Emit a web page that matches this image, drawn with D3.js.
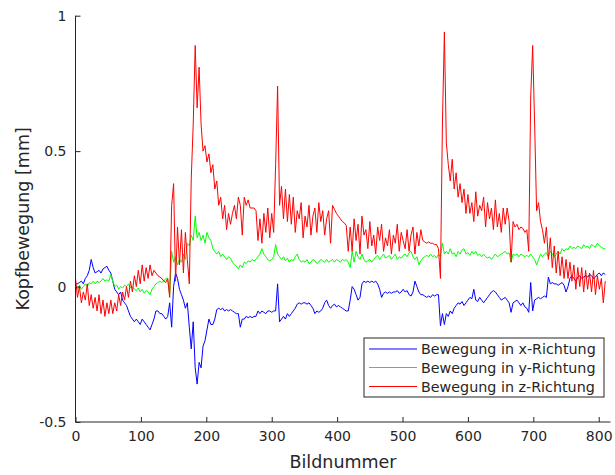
<!DOCTYPE html>
<html>
<head>
<meta charset="utf-8">
<script src="https://cdn.jsdelivr.net/npm/d3@7"></script>
<style>
  html, body { margin: 0; padding: 0; background: #fff; }
  svg { display: block; }
  text { font-family: "DejaVu Sans", sans-serif; }
</style>
</head>
<body>
<svg id="chart" width="615" height="475"></svg>
<script>
const frameStep = 3;
const xTicks = [0, 100, 200, 300, 400, 500, 600, 700, 800];
const yTicks = [-0.5, 0, 0.5, 1];
const yTickLabels = ["-0.5", "0", "0.5", "1"];
const seriesNames = ["Bewegung in x-Richtung", "Bewegung in y-Richtung", "Bewegung in z-Richtung"];
const seriesColors = ["#0000ff", "#00ff00", "#ff0000"];

const xMove = [
  0.01, 0.01, 0.015, 0.02, 0.01, 0.03, 0.04, 0.06, 0.10, 0.07,
  0.05, 0.055, 0.06, 0.05, 0.065, 0.07, 0.075, 0.06, 0.05, 0.02,
  -0.01, -0.02, -0.03, -0.02, -0.05, -0.06, -0.07, -0.09, -0.11, -0.12,
  -0.13, -0.12, -0.13, -0.14, -0.12, -0.13, -0.14, -0.15, -0.16, -0.14,
  -0.12, -0.09, -0.09, -0.10, -0.10, -0.11, -0.12, -0.11, -0.06, -0.15,
  0.0, 0.05, 0.03, -0.01, -0.03, -0.05, -0.08, -0.06, -0.15, -0.23,
  -0.13, -0.30, -0.36, -0.28, -0.30, -0.22, -0.20, -0.16, -0.12, -0.14,
  -0.14, -0.12, -0.085, -0.08, -0.085, -0.08, -0.09, -0.085, -0.09, -0.085,
  -0.09, -0.095, -0.10, -0.10, -0.15, -0.12, -0.12, -0.11, -0.115, -0.11,
  -0.115, -0.11, -0.11, -0.09, -0.10, -0.09, -0.095, -0.10, -0.09, -0.09,
  -0.095, -0.09, -0.09, 0.01, -0.13, -0.12, -0.11, -0.12, -0.10, -0.11,
  -0.10, -0.09, -0.08, -0.065, -0.06, -0.065, -0.06, -0.06, -0.065, -0.06,
  -0.07, -0.08, -0.10, -0.09, -0.095, -0.09, -0.08, -0.06, -0.05, -0.07,
  -0.08, -0.07, -0.065, -0.075, -0.07, -0.075, -0.08, -0.085, -0.09, -0.09,
  -0.05, 0.0, -0.01, -0.03, -0.05, -0.04, 0.01, 0.02, 0.015, 0.02,
  0.015, 0.02, 0.015, 0.02, 0.01, -0.01, -0.04, -0.025, -0.02, -0.025,
  -0.02, -0.025, -0.02, -0.02, -0.015, -0.025, -0.02, -0.01, -0.02, -0.015,
  -0.03, -0.035, -0.02, 0.02, 0.0, -0.02, -0.03, -0.03, -0.035, -0.04,
  -0.035, -0.04, -0.03, -0.035, -0.03, -0.03, -0.145, -0.10, -0.14, -0.10,
  -0.11, -0.09, -0.10, -0.08, -0.07, -0.06, -0.065, -0.055, -0.07, -0.06,
  -0.05, -0.04, -0.045, -0.01, -0.05, -0.055, -0.04, -0.05, -0.06, -0.05,
  -0.04, -0.03, -0.02, -0.015, -0.02, -0.03, -0.04, -0.05, -0.045, -0.04,
  -0.05, -0.06, -0.095, -0.06, -0.055, -0.05, -0.06, -0.07, -0.06, -0.075,
  -0.08, -0.095, 0.015, -0.09, -0.05, -0.045, -0.04, -0.045, -0.04, -0.035,
  -0.04, 0.035, 0.01, 0.015, 0.01, 0.01, 0.005, 0.01, 0.015, 0.005,
  -0.02, 0.0, 0.03, 0.04, 0.03, 0.02, 0.035, 0.04, 0.03, 0.035,
  0.04, 0.035, 0.045, 0.04, 0.03, 0.035, 0.045, 0.05, 0.04, 0.05,
  0.045
];

const yMove = [
  0.0, -0.01, 0.005, -0.01, 0.0, 0.01, 0.0, 0.015, 0.01, 0.02,
  0.01, 0.02, 0.015, 0.02, 0.03, 0.02, 0.025, 0.02, 0.045, 0.02,
  0.0, 0.005, -0.01, 0.0, -0.005, 0.005, 0.0, 0.01, -0.005, 0.0,
  -0.01, -0.015, -0.005, -0.02, -0.01, -0.025, -0.015, -0.02, -0.03, -0.01,
  0.0, 0.01, 0.015, 0.02, 0.015, 0.02, 0.03, 0.025, -0.03, 0.13,
  0.09, 0.11, 0.08, 0.10, 0.09, 0.12, 0.10, 0.16, 0.15, 0.19,
  0.17, 0.26, 0.18, 0.20, 0.17, 0.19, 0.16, 0.20, 0.18, 0.17,
  0.14, 0.13, 0.12, 0.13, 0.11, 0.12, 0.11, 0.10, 0.11, 0.105,
  0.09, 0.08, 0.075, 0.065, 0.08, 0.07, 0.09, 0.085, 0.095, 0.09,
  0.10, 0.095, 0.10, 0.11, 0.12, 0.14, 0.12, 0.11, 0.10, 0.095,
  0.10, 0.11, 0.155, 0.12, 0.11, 0.10, 0.11, 0.095, 0.105, 0.09,
  0.10, 0.095, 0.11, 0.12, 0.10, 0.09, 0.095, 0.09, 0.10, 0.085,
  0.09, 0.10, 0.095, 0.085, 0.09, 0.10, 0.095, 0.09, 0.10, 0.09,
  0.095, 0.10, 0.09, 0.10, 0.095, 0.09, 0.10, 0.095, 0.10, 0.09,
  0.07, 0.13, 0.09, 0.13, 0.11, 0.10, 0.12, 0.10, 0.09, 0.095,
  0.10, 0.09, 0.10, 0.11, 0.115, 0.10, 0.11, 0.12, 0.105, 0.11,
  0.115, 0.10, 0.11, 0.12, 0.10, 0.11, 0.105, 0.115, 0.12, 0.11,
  0.125, 0.13, 0.11, 0.10, 0.11, 0.08, 0.095, 0.105, 0.11, 0.115,
  0.11, 0.12, 0.11, 0.115, 0.105, 0.12, 0.11, 0.16, 0.12, 0.13,
  0.12, 0.14, 0.12, 0.125, 0.11, 0.13, 0.12, 0.135, 0.14, 0.12,
  0.125, 0.115, 0.13, 0.12, 0.13, 0.115, 0.12, 0.11, 0.12, 0.11,
  0.105, 0.11, 0.10, 0.11, 0.12, 0.11, 0.115, 0.12, 0.125, 0.13,
  0.12, 0.125, 0.09, 0.12, 0.115, 0.12, 0.11, 0.12, 0.115, 0.11,
  0.115, 0.11, 0.12, 0.11, 0.10, 0.08, 0.10, 0.12, 0.11, 0.12,
  0.125, 0.11, 0.13, 0.12, 0.11, 0.12, 0.13, 0.12, 0.14, 0.13,
  0.14, 0.135, 0.15, 0.14, 0.145, 0.14, 0.15, 0.145, 0.14, 0.155,
  0.145, 0.15, 0.14, 0.155, 0.15, 0.145, 0.16, 0.15, 0.145, 0.14,
  0.14
];

const zMove = [
  0.03, -0.04, 0.0, -0.06, -0.02, -0.05, 0.01, -0.07, -0.03, -0.08,
  -0.04, -0.09, -0.03, -0.10, -0.05, -0.11, -0.06, -0.10, -0.05, -0.10,
  -0.06, -0.09, -0.03, -0.07, -0.02, -0.05, 0.0, -0.04, 0.02, -0.02,
  0.04, 0.0, 0.06, 0.01, 0.08, 0.02, 0.07, 0.03, 0.08, 0.04,
  0.06, 0.05, 0.04, 0.035, 0.03, 0.02, 0.015, 0.03, -0.04, 0.30,
  0.38, 0.02, 0.22, 0.08, 0.21, 0.05, 0.20, 0.10, 0.01, 0.40,
  0.60, 0.89, 0.66, 0.81, 0.60, 0.50, 0.52, 0.46, 0.49, 0.42,
  0.45, 0.36, 0.39, 0.30, 0.33, 0.25, 0.30, 0.21, 0.27, 0.23,
  0.27, 0.30, 0.25, 0.33, 0.30, 0.19, 0.33, 0.30, 0.32, 0.29,
  0.29, 0.29, 0.28, 0.17, 0.25, 0.16, 0.27, 0.20, 0.29, 0.18,
  0.27, 0.20, 0.45, 0.74, 0.30, 0.37, 0.25, 0.36, 0.24, 0.34,
  0.23, 0.33, 0.20, 0.28, 0.25, 0.31, 0.18, 0.26, 0.22, 0.30,
  0.19, 0.26, 0.29, 0.20, 0.31, 0.24, 0.28, 0.19, 0.25, 0.28,
  0.16, 0.30, 0.285, 0.27, 0.26, 0.25, 0.24, 0.235, 0.225, 0.13,
  0.22, 0.13, 0.25, 0.17, 0.23, 0.12, 0.26, 0.19, 0.21, 0.14,
  0.24, 0.15, 0.19, 0.12, 0.22, 0.17, 0.23, 0.13, 0.18, 0.15,
  0.21, 0.12, 0.19, 0.16, 0.23, 0.13, 0.20, 0.17, 0.14, 0.21,
  0.13, 0.19, 0.22, 0.12, 0.20, 0.15, 0.21, 0.17, 0.165, 0.16,
  0.165, 0.16, 0.16, 0.155, 0.155, 0.14, 0.03, 0.60, 0.94, 0.53,
  0.45, 0.39, 0.47, 0.36, 0.42, 0.33, 0.38, 0.31, 0.36, 0.27,
  0.34, 0.27, 0.31, 0.24, 0.35, 0.26, 0.30, 0.28, 0.33, 0.22,
  0.31, 0.25, 0.29, 0.21, 0.32, 0.22, 0.27, 0.20, 0.29, 0.23,
  0.29, 0.24, 0.09, 0.24, 0.22, 0.23, 0.21, 0.22, 0.215, 0.20,
  0.21, 0.13, 0.70, 0.89, 0.60, 0.28, 0.31, 0.24, 0.21, 0.16,
  0.22, 0.10, 0.18, 0.07, 0.15, 0.05, 0.13, 0.04, 0.11, 0.03,
  0.10, 0.03, 0.09, 0.02, 0.08, -0.01, 0.07, 0.0, 0.07, -0.02,
  0.06, -0.01, 0.05, -0.02, 0.06, -0.03, 0.04, -0.01, 0.03, -0.06,
  0.02
];

const frames = xMove.map((_, i) => i * frameStep);

// ---- layout ----
const plot = { left: 75.5, right: 610.5, top: 15.7, bottom: 422 };
const axisColor = "#262626";

const svg = d3.select("#chart");
const x = d3.scaleLinear().domain([0, 818]).range([plot.left, plot.right]);
const y = d3.scaleLinear().domain([-0.5, 1]).range([plot.bottom, plot.top]);

svg.append("defs").append("clipPath").attr("id", "clip")
  .append("rect")
  .attr("x", plot.left).attr("y", plot.top)
  .attr("width", plot.right - plot.left).attr("height", plot.bottom - plot.top);

// data lines
const series = [xMove, yMove, zMove];
const line = d3.line().x((d, i) => x(frames[i])).y(d => y(d));
const gLines = svg.append("g").attr("clip-path", "url(#clip)");
series.forEach((s, k) => {
  gLines.append("path")
    .datum(s)
    .attr("d", line)
    .attr("fill", "none")
    .attr("stroke", seriesColors[k])
    .attr("stroke-width", 1)
    .attr("stroke-linejoin", "round");
});

// axes
const xAxis = d3.axisBottom(x).tickValues(xTicks).tickSizeInner(-5).tickSizeOuter(0).tickPadding(9);
const yAxis = d3.axisLeft(y).tickValues(yTicks).tickFormat((d, i) => yTickLabels[i]).tickSizeInner(-5).tickSizeOuter(0).tickPadding(9);

const gx = svg.append("g").attr("transform", `translate(0,${plot.bottom})`).call(xAxis);
const gy = svg.append("g").attr("transform", `translate(${plot.left},0)`).call(yAxis);

[gx, gy].forEach(g => {
  g.select(".domain").attr("stroke", axisColor).attr("stroke-width", 1);
  g.selectAll(".tick line").attr("stroke", axisColor).attr("stroke-width", 1);
  g.selectAll(".tick text")
    .attr("fill", axisColor)
    .style("font-family", '"DejaVu Sans", sans-serif')
    .style("font-size", "14px");
});
gx.select(".domain").attr("d", `M${plot.left},0H${plot.right}`);
gy.select(".domain").attr("d", `M0,${plot.bottom}V${plot.top}`);

// axis labels
svg.append("text")
  .attr("x", (plot.left + plot.right) / 2)
  .attr("y", 468)
  .attr("text-anchor", "middle")
  .attr("fill", axisColor)
  .style("font-size", "17.5px")
  .text("Bildnummer");

svg.append("text")
  .attr("transform", `translate(29,${(plot.top + plot.bottom) / 2}) rotate(-90)`)
  .attr("text-anchor", "middle")
  .attr("fill", axisColor)
  .style("font-size", "17.5px")
  .text("Kopfbewegung [mm]");

// legend
const leg = { x: 364, y: 338, w: 240, h: 59 };
const gLeg = svg.append("g");
gLeg.append("rect")
  .attr("x", leg.x).attr("y", leg.y).attr("width", leg.w).attr("height", leg.h)
  .attr("fill", "#fff").attr("stroke", axisColor).attr("stroke-width", 1);
const rowY = [349, 367.5, 386.5];
seriesNames.forEach((name, k) => {
  gLeg.append("line")
    .attr("x1", 369).attr("x2", 417)
    .attr("y1", rowY[k]).attr("y2", rowY[k])
    .attr("stroke", seriesColors[k]).attr("stroke-width", 1);
  gLeg.append("text")
    .attr("x", 421).attr("y", rowY[k] + 5)
    .attr("fill", axisColor)
    .style("font-size", "14.3px")
    .text(name);
});
</script>
</body>
</html>
